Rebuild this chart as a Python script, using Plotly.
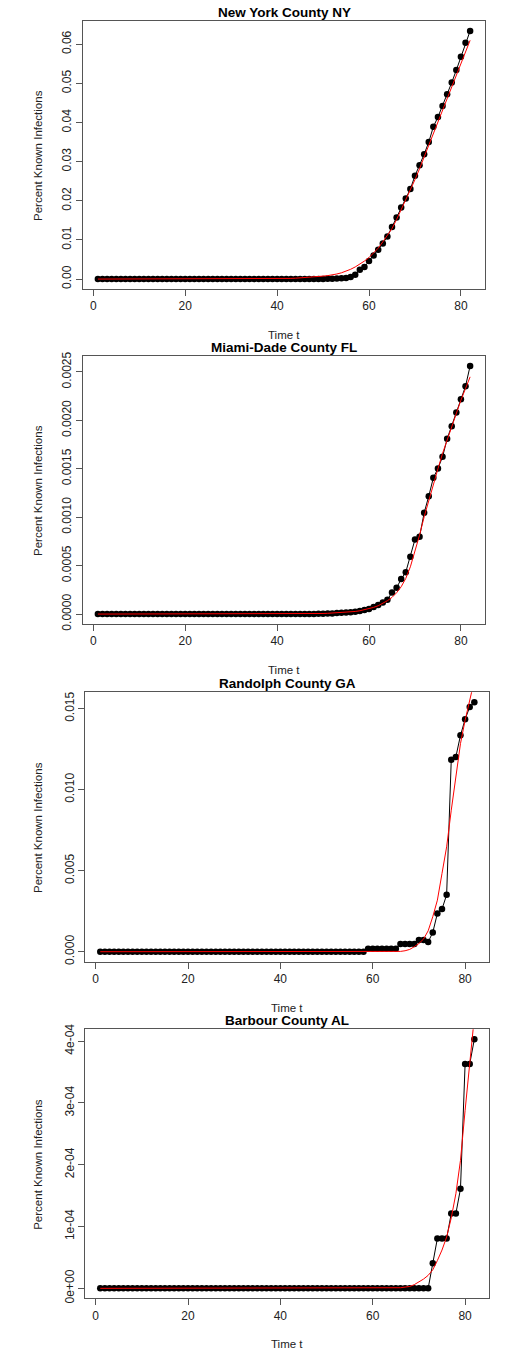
import plotly.graph_objects as go

# ---------------- data ----------------
time_t = list(range(1, 83))

titles = ["New York County NY", "Miami-Dade County FL", "Randolph County GA", "Barbour County AL"]

ny_obs = [0, 0, 0, 0, 0, 0, 0, 0, 0, 0,
          0, 0, 0, 0, 0, 0, 0, 0, 0, 0,
          0, 0, 0, 0, 0, 0, 0, 0, 0, 0,
          0, 0, 0, 0, 0, 0, 0, 0, 0, 0,
          0, 0, 0, 0, 0, 0, 0, 0.00002, 0.00003, 0.00004,
          0.00006, 0.0001, 0.00013, 0.0002, 0.0003, 0.0005, 0.0011, 0.0024, 0.0031, 0.0046,
          0.0060, 0.0075, 0.0091, 0.0109, 0.0133, 0.0157, 0.0183, 0.0206, 0.0230, 0.0264,
          0.0291, 0.0319, 0.0350, 0.0389, 0.0414, 0.0442, 0.0472, 0.0502, 0.0534, 0.0568,
          0.0604, 0.0634]
ny_fit = [0, 0, 0, 0, 0, 0, 0, 0, 0, 0,
          0, 0, 0, 0, 0, 0, 0, 0, 0, 0,
          0, 0, 0, 0, 0, 0, 0, 0, 0.00001, 0.00001,
          0.00002, 0.00002, 0.00003, 0.00003, 0.00004, 0.00004, 0.00005, 0.00006, 0.00007, 0.00008,
          0.0001, 0.00013, 0.00017, 0.00022, 0.00028, 0.00035, 0.00044, 0.00054, 0.00065, 0.00076,
          0.00088, 0.0010, 0.0013, 0.0016, 0.0020, 0.0025, 0.0031, 0.0038, 0.0046, 0.0055,
          0.0066, 0.0079, 0.0095, 0.0112, 0.0129, 0.0152, 0.0177, 0.0201, 0.0227, 0.0254,
          0.0282, 0.0312, 0.0342, 0.0372, 0.0401, 0.0430, 0.0461, 0.0491, 0.0521, 0.0552,
          0.0580, 0.0610]

md_obs = [0, 0, 0, 0, 0, 0, 0, 0, 0, 0,
          0, 0, 0, 0, 0, 0, 0, 0, 0, 0,
          0, 0, 0, 0, 0, 0, 0, 0, 0, 0,
          0, 0, 0, 0, 0, 0, 0, 0, 0, 0,
          0, 0, 0, 0, 0, 0, 0.000001, 0.000002, 0.000003, 0.000004,
          0.000005, 0.000007, 0.00001, 0.000014, 0.000017, 0.00002, 0.000024, 0.000031, 0.000041, 0.000052,
          0.000072, 0.000093, 0.00012, 0.000148, 0.000224, 0.000272, 0.000361, 0.000433, 0.000592, 0.00077,
          0.000798, 0.001046, 0.001217, 0.001407, 0.001503, 0.001623, 0.001809, 0.00194, 0.002081, 0.002218,
          0.002352, 0.002562]
md_fit = [0, 0, 0, 0, 0, 0, 0, 0, 0, 0,
          0, 0, 0, 0, 0, 0, 0, 0, 0, 0,
          0, 0, 0, 0, 0, 0, 0, 0, 0, 0,
          0, 0, 0, 0, 0, 0, 0, 0, 0.000001, 0.000001,
          0.000001, 0.000002, 0.000002, 0.000003, 0.000003, 0.000004, 0.000004, 0.000005, 0.000005, 0.000006,
          0.000008, 0.00001, 0.000012, 0.000015, 0.000018, 0.000022, 0.000027, 0.000034, 0.000045, 0.000055,
          0.000069, 0.000086, 0.00011, 0.000138, 0.000172, 0.00022, 0.000282, 0.000368, 0.000488, 0.000643,
          0.000815, 0.001004, 0.001176, 0.001348, 0.0015, 0.001658, 0.0018, 0.00194, 0.00207, 0.002208,
          0.002328, 0.002449]

ra_obs = [0, 0, 0, 0, 0, 0, 0, 0, 0, 0,
          0, 0, 0, 0, 0, 0, 0, 0, 0, 0,
          0, 0, 0, 0, 0, 0, 0, 0, 0, 0,
          0, 0, 0, 0, 0, 0, 0, 0, 0, 0,
          0, 0, 0, 0, 0, 0, 0, 0, 0, 0,
          0, 0, 0, 0, 0, 0, 0, 0, 0.000185, 0.000185,
          0.000185, 0.000185, 0.000185, 0.000185, 0.000185, 0.00047, 0.00047, 0.00047, 0.00047, 0.00072,
          0.00072, 0.0006, 0.00119, 0.00236, 0.00263, 0.00351, 0.01185, 0.01202, 0.01335, 0.01434,
          0.0151, 0.01539]
ra_fit = [0, 0, 0, 0, 0, 0, 0, 0, 0, 0,
          0, 0, 0, 0, 0, 0, 0, 0, 0, 0,
          0, 0, 0, 0, 0, 0, 0, 0, 0, 0,
          0, 0, 0, 0, 0, 0, 0, 0, 0, 0,
          0, 0, 0, 0, 0, 0, 0, 0, 0, 0,
          0, 0, 0, 0, 0, 0, 0, 0, 0, 0,
          0, 0, 0, 0, 0.00001, 0.00002, 0.00006, 0.00014, 0.00031, 0.00051,
          0.00078, 0.00129, 0.00216, 0.00318, 0.00483, 0.00647, 0.00873, 0.01078, 0.01284, 0.01428,
          0.01551, 0.01674]

ba_obs = [0, 0, 0, 0, 0, 0, 0, 0, 0, 0,
          0, 0, 0, 0, 0, 0, 0, 0, 0, 0,
          0, 0, 0, 0, 0, 0, 0, 0, 0, 0,
          0, 0, 0, 0, 0, 0, 0, 0, 0, 0,
          0, 0, 0, 0, 0, 0, 0, 0, 0, 0,
          0, 0, 0, 0, 0, 0, 0, 0, 0, 0,
          0, 0, 0, 0, 0, 0, 0, 0, 0, 0,
          0, 0, 0.0000404, 0.0000808, 0.0000808, 0.0000808, 0.000121, 0.000121, 0.000161, 0.000363,
          0.000363, 0.000403]
ba_fit = [0, 0, 0, 0, 0, 0, 0, 0, 0, 0,
          0, 0, 0, 0, 0, 0, 0, 0, 0, 0,
          0, 0, 0, 0, 0, 0, 0, 0, 0, 0,
          0, 0, 0, 0, 0, 0, 0, 0, 0, 0,
          0, 0, 0, 0, 0, 0, 0, 0, 0, 0,
          0, 0, 0, 0, 0, 0, 0, 0, 0, 0,
          0, 0, 0, 0, 0.000001, 0.000001, 0.000002, 0.000003, 0.000006, 0.00001,
          0.000015, 0.000021, 0.00003, 0.000045, 0.000062, 0.000083, 0.000114, 0.000153, 0.000207, 0.000288,
          0.000369, 0.000439]

x_ticks = [0, 20, 40, 60, 80]
ny_yticks = [0.0, 0.01, 0.02, 0.03, 0.04, 0.05, 0.06]
ny_ylabels = ["0.00", "0.01", "0.02", "0.03", "0.04", "0.05", "0.06"]
md_yticks = [0.0, 0.0005, 0.001, 0.0015, 0.002, 0.0025]
md_ylabels = ["0.0000", "0.0005", "0.0010", "0.0015", "0.0020", "0.0025"]
ra_yticks = [0.0, 0.005, 0.01, 0.015]
ra_ylabels = ["0.000", "0.005", "0.010", "0.015"]
ba_yticks = [0.0, 0.0001, 0.0002, 0.0003, 0.0004]
ba_ylabels = ["0e+00", "1e-04", "2e-04", "3e-04", "4e-04"]

# ---------------- layout ----------------
W, H = 526, 1353
FONT = "Liberation Sans, Arial, sans-serif"
panels = [
    dict(obs=ny_obs, fit=ny_fit, yt=ny_yticks, yl=ny_ylabels, box=(83, 485, 21, 289)),
    dict(obs=md_obs, fit=md_fit, yt=md_yticks, yl=md_ylabels, box=(83, 485, 356, 624)),
    dict(obs=ra_obs, fit=ra_fit, yt=ra_yticks, yl=ra_ylabels, box=(85.3, 489.3, 692.3, 961.7)),
    dict(obs=ba_obs, fit=ba_fit, yt=ba_yticks, yl=ba_ylabels, box=(85.3, 489.3, 1029.3, 1298.3)),
]


def px(x):
    return x / W


def py(y):
    return 1 - y / H


fig = go.Figure()
annotations = []
xmin, xmax = min(time_t), max(time_t)
xpad = 0.04 * (xmax - xmin)

for i, p in enumerate(panels, start=1):
    sfx = "" if i == 1 else str(i)
    x0, x1, top, bot = p["box"]
    fig.add_trace(go.Scatter(x=time_t, y=p["obs"], mode="lines+markers",
                             line=dict(color="black", width=1),
                             marker=dict(color="black", size=6.5),
                             xaxis="x" + sfx, yaxis="y" + sfx, showlegend=False))
    fig.add_trace(go.Scatter(x=time_t, y=p["fit"], mode="lines",
                             line=dict(color="red", width=1),
                             xaxis="x" + sfx, yaxis="y" + sfx, showlegend=False))
    ymax = max(p["obs"])
    ypad = 0.04 * ymax
    axcommon = dict(showline=True, mirror=True, linecolor="#555", linewidth=1,
                    ticks="outside", ticklen=6, tickcolor="#555", tickwidth=1,
                    showgrid=False, zeroline=False, automargin=False,
                    tickfont=dict(family=FONT, size=12, color="#222"))
    fig.update_layout(**{
        "xaxis" + sfx: dict(domain=[px(x0), px(x1)], anchor="y" + sfx,
                            range=[xmin - xpad, xmax + xpad], tickvals=x_ticks,
                            ticktext=[str(v) for v in x_ticks], **axcommon),
        "yaxis" + sfx: dict(domain=[py(bot), py(top)], anchor="x" + sfx,
                            range=[-ypad, ymax + ypad], tickvals=p["yt"], ticktext=p["yl"],
                            tickangle=-90, **axcommon),
    })
    cx = px((x0 + x1) / 2)
    annotations.append(dict(text="<b>" + titles[i - 1] + "</b>", x=cx, y=py(top - 8.5),
                            xref="paper", yref="paper", showarrow=False,
                            font=dict(family=FONT, size=13.5, color="black"),
                            xanchor="center", yanchor="middle"))
    annotations.append(dict(text="Time t", x=cx, y=py(bot + 46),
                            xref="paper", yref="paper", showarrow=False,
                            font=dict(family=FONT, size=11.5, color="#222"),
                            xanchor="center", yanchor="middle"))
    annotations.append(dict(text="Percent Known Infections", x=px(38), y=py((top + bot) / 2),
                            xref="paper", yref="paper", showarrow=False, textangle=-90,
                            font=dict(family=FONT, size=11.5, color="#222"),
                            xanchor="center", yanchor="middle"))

fig.update_layout(width=W, height=H, margin=dict(l=0, r=0, t=0, b=0),
                  paper_bgcolor="white", plot_bgcolor="white",
                  annotations=annotations, showlegend=False)

fig.write_html("out.html", config={"displayModeBar": False},
               post_script="document.body.style.margin='0';document.body.style.overflow='hidden';")
